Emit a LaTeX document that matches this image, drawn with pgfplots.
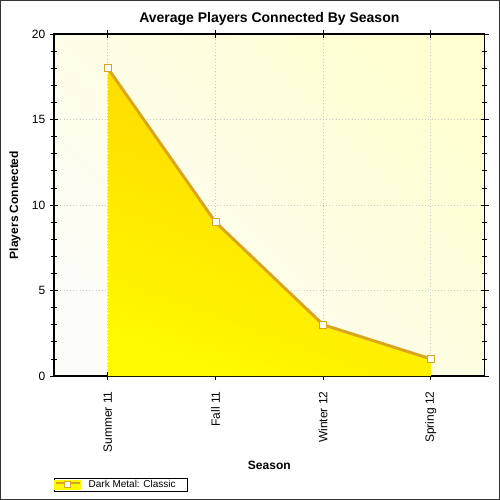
\documentclass[border=0pt]{standalone}
\usepackage{pgfplots}
\pgfplotsset{compat=1.18}
\usepackage{fontspec}
\setmainfont{Liberation Sans}
\definecolor{bgtop}{HTML}{FFFFD2}
\definecolor{bgbot}{HTML}{FDFDF8}
\definecolor{fillA}{HTML}{FFD500}
\definecolor{fillB}{HTML}{FFF800}
\definecolor{lineC}{HTML}{DAA520}
\definecolor{gridC}{HTML}{C8C8C8}
\begin{document}
\begin{tikzpicture}
\begin{axis}[
  scale only axis,
  width=323pt, height=256.5pt,
  xmin=-0.5, xmax=3.5, ymin=0, ymax=20,
  xtick={0,1,2,3},
  xticklabels={Summer 11,Fall 11,Winter 12,Spring 12},
  x tick label style={rotate=90, anchor=east, font=\fontsize{9}{10}\selectfont, xshift=-5pt},
  ytick={0,5,10,15,20},
  minor y tick num=4,
  y tick label style={font=\fontsize{9}{10}\selectfont},
  /pgf/number format/assume math mode=true,
  tick align=center,
  major tick length=6pt,
  minor tick length=4pt,
  xtick pos=both, ytick pos=both,
  axis line style={line width=0.9pt},
  every tick/.style={black, line width=0.6pt},
  xmajorgrids, ymajorgrids,
  major grid style={gridC, dotted, line width=0.6pt},
  axis background/.style={top color=bgtop, bottom color=bgbot, shading angle=-45},
  xlabel={\bfseries Season},
  xlabel style={font=\fontsize{9}{10}\selectfont, at={(axis description cs:0.5,-0.260)}, anchor=center},
  ylabel={\bfseries Players Connected},
  ylabel style={font=\fontsize{9}{10}\selectfont, at={(axis description cs:-0.0906,0.5)}, anchor=center},
  legend style={at={(axis description cs:0,-0.2982)}, anchor=north west, draw=black, line width=0.6pt,
    font=\fontsize{7.5}{8}\selectfont, inner xsep=0pt, inner ysep=0.3pt, row sep=0pt,
    nodes={inner xsep=3pt, inner ysep=1pt}},
  legend cell align=left,
  legend image code/.code={
    \fill[fillB] (0pt,-2.7pt) rectangle (18pt,2.7pt);
    \draw[lineC, line width=2pt] (0pt,1.3pt) -- (18pt,1.3pt);
    \draw[lineC, fill=white, line width=0.6pt] (6.5pt,-2.2pt) rectangle (11pt,2.2pt);
  },
  clip=false,
]
\addplot[draw=none, top color=fillA, bottom color=fillB, shading angle=-20, forget plot]
  coordinates {(0,18) (1,9) (2,3) (3,1)} \closedcycle;
\addplot[lineC, line width=2.2pt, mark=square*, mark size=2.6pt,
  mark options={fill=white, draw=lineC, line width=0.7pt}]
  coordinates {(0,18) (1,9) (2,3) (3,1)};
\addlegendentry{\hspace*{2.5pt}Dark Metal: Classic\hspace*{6pt}\mbox{}}
\node[anchor=base, font=\fontsize{10.5}{12}\selectfont\bfseries, inner sep=0pt]
  at (rel axis cs:0.5,1.035) {Average Players Connected By Season};
\end{axis}
\draw[black!80, line width=0.8pt] (-40.1pt,-92.6pt) rectangle (334.1pt,281.6pt);
\pgfresetboundingbox
\useasboundingbox (-40.5pt,-93pt) rectangle (334.5pt,282pt);
\end{tikzpicture}
\end{document}
